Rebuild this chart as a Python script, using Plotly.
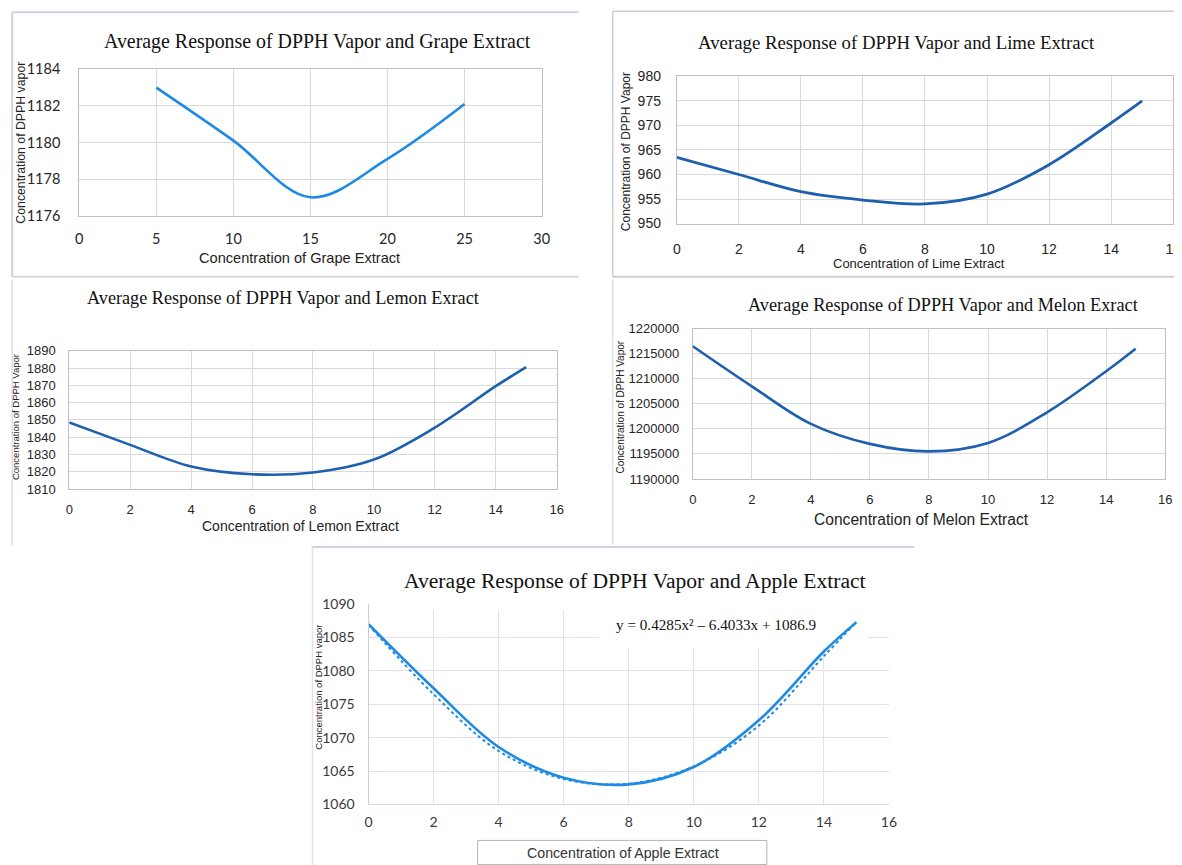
import plotly.graph_objects as go

W, H = 1182, 865
# measured placement of the figure in the photographed page: page = off + scale * figure_pixel
SX, OXP = 0.989, 11.8
SY, OYP = 0.979, 17.7

# ---------------- data ----------------
grape_x = [5, 10, 15, 20, 25]
grape_y = [1183.0, 1180.1, 1177.0, 1179.1, 1182.1]

lime_x = [0, 2, 4, 6, 8, 10, 12, 14, 15]
lime_y = [963.5, 960.0, 956.5, 954.8, 954.0, 956.0, 962.0, 970.5, 975.0]

lemon_x = [0, 2, 4, 6, 8, 10, 12, 14, 15]
lemon_y = [1848.5, 1835.5, 1823.0, 1818.5, 1819.5, 1827.0, 1845.5, 1869.5, 1880.5]

melon_x = [0, 2, 4, 6, 8, 10, 12, 14, 15]
melon_y = [1216500, 1208500, 1201000, 1197000, 1195500, 1197200, 1203300, 1211500, 1216000]

apple_x = [0, 2, 4, 6, 8, 10, 12, 14, 15]
apple_y = [1087.0, 1077.4, 1068.6, 1064.0, 1063.0, 1065.6, 1072.6, 1082.9, 1087.3]
apple_trend_y = [1086.9, 1076.5, 1068.0, 1063.8, 1063.1, 1065.7, 1071.8, 1082.2, 1087.3]

titles = [
    "Average Response of DPPH Vapor and Grape Extract",
    "Average Response of DPPH Vapor and Lime Extract",
    "Average Response of DPPH Vapor and Lemon Exract",
    "Average Response of DPPH Vapor and Melon Exract",
    "Average Response of DPPH Vapor and Apple Extract",
]
xtitles = [
    "Concentration of Grape Extract",
    "Concentration of Lime Extract",
    "Concentration of Lemon Extract",
    "Concentration of Melon Extract",
    "Concentration of Apple Extract",
]
ytitles = [
    "Concentration of DPPH vapor",
    "Concentration of DPPH Vapor",
    "Concentration of DPPH Vapor",
    "Concentration of DPPH Vapor",
    "Concentration of DPPH vapor",
]
equation = "y = 0.4285x² – 6.4033x + 1086.9"


def px(x):
    return ((x - OXP) / SX) / W


def py(y):
    return 1 - ((y - OYP) / SY) / H


def dx(a, b):
    return [px(a), px(b)]


def dy(top, bottom):
    return [py(bottom), py(top)]


SERIF = "Liberation Serif, Times New Roman, serif"
SANS = "Liberation Sans, Arial, sans-serif"
CALI = "Lato, Carlito, Liberation Sans, sans-serif"

BRIGHT = "#1f8ae3"
DARK = "#1e5fae"
GRID = "#d9d9d9"

fig = go.Figure()

fig.add_trace(go.Scatter(x=grape_x, y=grape_y, mode="lines", line=dict(color=BRIGHT, width=2.6, shape="spline"),
                         xaxis="x", yaxis="y", showlegend=False))
fig.add_trace(go.Scatter(x=lime_x, y=lime_y, mode="lines", line=dict(color=DARK, width=2.8, shape="spline"),
                         xaxis="x2", yaxis="y2", showlegend=False))
fig.add_trace(go.Scatter(x=lemon_x, y=lemon_y, mode="lines", line=dict(color=DARK, width=2.6, shape="spline"),
                         xaxis="x3", yaxis="y3", showlegend=False))
fig.add_trace(go.Scatter(x=melon_x, y=melon_y, mode="lines", line=dict(color=DARK, width=2.6, shape="spline"),
                         xaxis="x4", yaxis="y4", showlegend=False))
fig.add_trace(go.Scatter(x=apple_x, y=apple_trend_y, mode="lines",
                         line=dict(color=BRIGHT, width=2, dash="dot", shape="spline"),
                         xaxis="x5", yaxis="y5", showlegend=False))
fig.add_trace(go.Scatter(x=apple_x, y=apple_y, mode="lines", line=dict(color=BRIGHT, width=2.6, shape="spline"),
                         xaxis="x5", yaxis="y5", showlegend=False))


def xaxis(domain, rng, dtick, anchor, font, standoff, boxed=True):
    return dict(domain=domain, range=rng, dtick=dtick, tick0=0, anchor=anchor, showgrid=True, gridcolor=GRID,
                gridwidth=1, zeroline=False, showline=True, linecolor="#bfbfbf", linewidth=1, mirror=boxed,
                ticks="", tickfont=font, ticklabelstandoff=standoff, fixedrange=True)


def yaxis(domain, rng, dtick, anchor, font, standoff, boxed=True):
    return dict(domain=domain, range=rng, dtick=dtick, tick0=rng[0], anchor=anchor, showgrid=True, gridcolor=GRID,
                gridwidth=1, zeroline=False, showline=True, linecolor="#bfbfbf", linewidth=1, mirror=boxed,
                ticks="", tickfont=font, ticklabelstandoff=standoff, fixedrange=True)


tf_grape = dict(family=CALI, size=14.5, color="#262626")
tf_lime = dict(family=SANS, size=14, color="#262626")
tf_lemon = dict(family=SANS, size=13, color="#262626")
tf_melon = dict(family=SANS, size=13, color="#262626")
tf_apple = dict(family=CALI, size=14, color="#3a3a3a")

layout = dict(
    width=W, height=H, margin=dict(l=0, r=0, t=0, b=0),
    paper_bgcolor="white", plot_bgcolor="white", showlegend=False,
    xaxis=xaxis(dx(79, 541), [0, 30], 5, "y", tf_grape, 10),
    yaxis=yaxis(dy(70, 216), [1176, 1184], 2, "x", tf_grape, 15),
    xaxis2=xaxis(dx(676, 1172), [0, 16], 2, "y2", tf_lime, 13),
    yaxis2=yaxis(dy(77, 224), [950, 980], 5, "x2", tf_lime, 12),
    xaxis3=xaxis(dx(69, 556), [0, 16], 2, "y3", tf_lemon, 8),
    yaxis3=yaxis(dy(351, 489), [1810, 1890], 10, "x3", tf_lemon, 10),
    xaxis4=xaxis(dx(692, 1164), [0, 16], 2, "y4", tf_melon, 8),
    yaxis4=yaxis(dy(329, 479), [1190000, 1220000], 5000, "x4", tf_melon, 10),
    xaxis5=xaxis(dx(368, 888), [0, 16], 2, "y5", tf_apple, 5, boxed=False),
    yaxis5=yaxis(dy(604, 804), [1060, 1090], 5, "x5", tf_apple, 10, boxed=False),
)
layout["xaxis5"].update(linecolor="#e2d6e6", gridcolor="#dfe3ea")
layout["yaxis5"].update(linecolor="#d0d0d0", gridcolor="#eadcea", tickformat="d")
layout["yaxis4"].update(tickformat="d")

fig.update_layout(**layout)

anns = []


def ann(text, x, y, size, family, color="#111111", angle=0, **kw):
    d = dict(text=text, x=px(x), y=py(y), xref="paper", yref="paper", showarrow=False,
             xanchor="center", yanchor="middle", textangle=angle,
             font=dict(family=family, size=size, color=color))
    d.update(kw)
    anns.append(d)


# titles
ann(titles[0], 317, 42, 19.9, SERIF)
ann(titles[1], 896, 43, 18.8, SERIF)
ann(titles[2], 283, 298, 18.2, SERIF)
ann(titles[3], 942, 305, 18.3, SERIF)
ann(titles[4], 634, 581, 21.6, SERIF)

# x titles
ann(xtitles[0], 299, 258, 14.6, SANS, "#222222")
ann(xtitles[1], 918, 264, 13, SANS, "#222222")
ann(xtitles[2], 300, 526, 14, SANS, "#222222")
ann(xtitles[3], 921, 520, 15.6, SANS, "#222222")
ann(xtitles[4], 622, 853, 14.2, SANS, "#333333")

# y titles
ann(ytitles[0], 21, 143, 12.3, SANS, "#222222", angle=-90)
ann(ytitles[1], 626, 152, 12, SANS, "#222222", angle=-90)
ann(ytitles[2], 16, 417, 9.5, SANS, "#222222", angle=-90)
ann(ytitles[3], 620, 407, 10, SANS, "#222222", angle=-90)
ann(ytitles[4], 318, 687, 9.5, SANS, "#222222", angle=-90)

# trendline equation
ann(equation, 715, 624, 15.2, SERIF, "#111111")

fig.update_layout(annotations=anns)

shapes = []


def pline(x0, y0, x1, y1, color, width=1.5):
    shapes.append(dict(type="line", xref="paper", yref="paper", x0=px(x0), y0=py(y0), x1=px(x1), y1=py(y1),
                       line=dict(color=color, width=width), layer="above"))


# panel frames (edges of the composed screenshots)
LAV = "#d6cfe3"
GR = "#cfcfcf"
pline(12, 13, 578, 13, LAV, 2)
pline(12, 13, 12, 277, LAV, 2)
pline(12, 277, 578, 277, "#d8d8d8", 2)
pline(612, 12, 1182, 12, GR, 1.5)
pline(612, 12, 612, 277, GR, 1.5)
pline(612, 277, 1182, 277, GR, 2)
pline(12, 280, 12, 545, "#e0e0e0", 1.5)
pline(612, 280, 612, 545, "#e0e0e0", 1.5)
pline(311, 547, 913, 547, LAV, 2)
pline(312, 547, 312, 865, "#e4e0ea", 1.5)
# box around apple x title
shapes.append(dict(type="rect", xref="paper", yref="paper", x0=px(477), y0=py(864), x1=px(766), y1=py(840),
                   line=dict(color="#b5b5b5", width=1), fillcolor="rgba(0,0,0,0)", layer="above"))
# white background behind the equation (covers the grid)
shapes.append(dict(type="rect", xref="x5", yref="y5", x0=7.08, x1=15.35, y0=1083.4, y1=1089.2,
                   line=dict(width=0), fillcolor="white", layer="between"))
shapes.append(dict(type="rect", xref="x5", yref="y5", x0=0.4, x1=15.9, y0=1089.1, y1=1090.2,
                   line=dict(width=0), fillcolor="white", layer="between"))
fig.update_layout(shapes=shapes)

fig.write_html("out.html")
